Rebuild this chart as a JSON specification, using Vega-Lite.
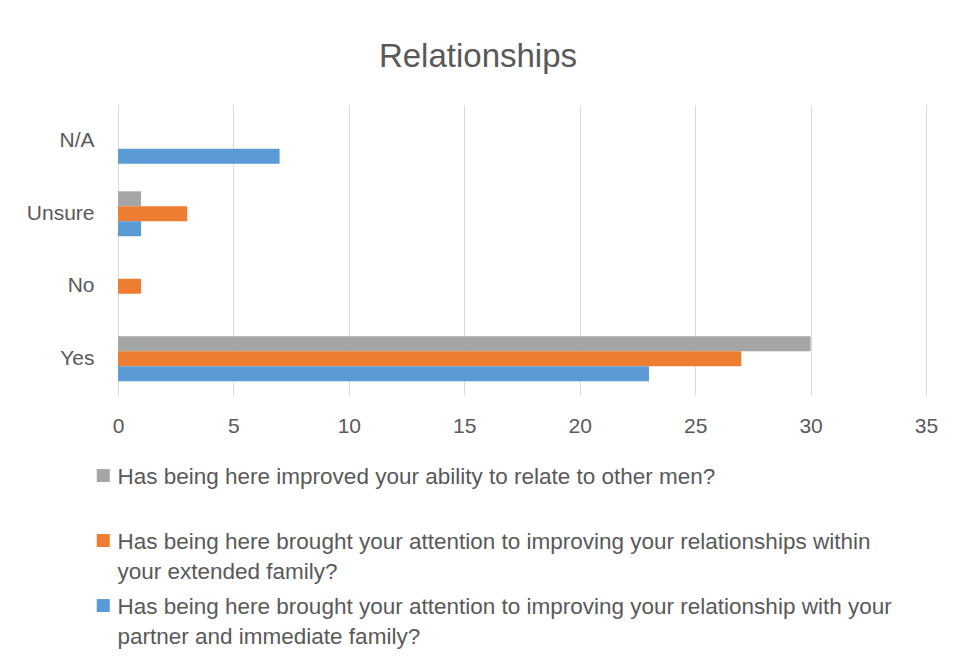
{
  "$schema": "https://vega.github.io/schema/vega-lite/v6.json",
  "width": 808,
  "height": 290,
  "autosize": {"type": "none"},
  "padding": {"left": 118, "top": 105, "right": 31, "bottom": 265},
  "background": "white",
  "title": {
    "text": "Relationships",
    "font": "Liberation Sans",
    "fontSize": 33,
    "fontWeight": "normal",
    "color": "#595959",
    "anchor": "middle",
    "dx": -44,
    "offset": 31
  },
  "data": {
    "values": [
      {"answer": "N/A", "series": "Has being here brought your attention to improving your relationship with your partner and immediate family?", "count": 7},
      {"answer": "Unsure", "series": "Has being here improved your ability to relate to other men?", "count": 1},
      {"answer": "Unsure", "series": "Has being here brought your attention to improving your relationships within your extended family?", "count": 3},
      {"answer": "Unsure", "series": "Has being here brought your attention to improving your relationship with your partner and immediate family?", "count": 1},
      {"answer": "No", "series": "Has being here brought your attention to improving your relationships within your extended family?", "count": 1},
      {"answer": "Yes", "series": "Has being here improved your ability to relate to other men?", "count": 30},
      {"answer": "Yes", "series": "Has being here brought your attention to improving your relationships within your extended family?", "count": 27},
      {"answer": "Yes", "series": "Has being here brought your attention to improving your relationship with your partner and immediate family?", "count": 23}
    ]
  },
  "mark": {"type": "bar"},
  "encoding": {
    "y": {
      "field": "answer",
      "type": "nominal",
      "title": null,
      "scale": {"domain": ["N/A", "Unsure", "No", "Yes"], "paddingInner": 0.38, "paddingOuter": 0.19},
      "axis": {
        "ticks": false,
        "domain": false,
        "grid": false,
        "labelFont": "Liberation Sans",
        "labelFontSize": 21,
        "labelColor": "#595959",
        "labelPadding": 24
      }
    },
    "yOffset": {
      "field": "series",
      "type": "nominal",
      "scale": {
        "domain": [
          "Has being here improved your ability to relate to other men?",
          "Has being here brought your attention to improving your relationships within your extended family?",
          "Has being here brought your attention to improving your relationship with your partner and immediate family?"
        ],
        "paddingInner": 0,
        "paddingOuter": 0
      }
    },
    "x": {
      "field": "count",
      "type": "quantitative",
      "title": null,
      "scale": {"domain": [0, 35], "nice": false},
      "axis": {
        "values": [0, 5, 10, 15, 20, 25, 30, 35],
        "ticks": false,
        "domain": false,
        "grid": true,
        "gridColor": "#d9d9d9",
        "gridWidth": 1,
        "labelFlush": false,
        "labelFont": "Liberation Sans",
        "labelFontSize": 21,
        "labelColor": "#595959",
        "labelPadding": 20
      }
    },
    "color": {
      "field": "series",
      "type": "nominal",
      "title": null,
      "scale": {
        "domain": [
          "Has being here improved your ability to relate to other men?",
          "Has being here brought your attention to improving your relationships within your extended family?",
          "Has being here brought your attention to improving your relationship with your partner and immediate family?"
        ],
        "range": ["#A5A5A5", "#ED7D31", "#5B9BD5"]
      },
      "legend": {
        "orient": "none",
        "legendX": -26,
        "legendY": 350,
        "direction": "vertical",
        "padding": 0,
        "symbolType": "M-1,0.43H1V2.43H-1Z",
        "symbolSize": 169,
        "symbolStrokeWidth": 0,
        "labelFont": "Liberation Sans",
        "labelFontSize": 22.5,
        "labelColor": "#595959",
        "labelLimit": 900,
        "labelOffset": 3,
        "labelBaseline": "top",
        "rowPadding": 1,
        "gridAlign": "all",
        "labelExpr": "split(replace(replace(datum.label, 'within ', 'within|'), 'with your ', 'with your|'), '|')"
      }
    }
  },
  "config": {
    "view": {"stroke": null},
    "style": {"guide-label": {"lineHeight": 30}}
  }
}
